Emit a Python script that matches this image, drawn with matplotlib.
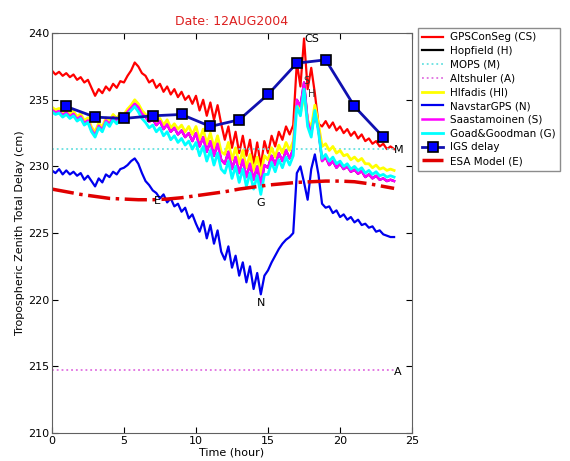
import numpy as np
import matplotlib
matplotlib.use("Agg")
import matplotlib.pyplot as plt

# time axis for the model series, 15 min steps
hours = np.arange(0, 24, 0.25)

gpsconseg = [
    237.2, 236.9, 237.1, 236.8, 237.0, 236.7, 236.9, 236.5,
    236.7, 236.3, 236.5, 235.9, 235.3, 235.8, 235.5, 236.0,
    235.7, 236.2, 235.9, 236.4, 236.3, 236.8, 237.2, 237.8,
    237.5, 237.0, 236.8, 236.3, 236.5, 235.9, 236.2, 235.6,
    236.0, 235.4, 235.8, 235.2, 235.6, 235.0, 235.3, 234.7,
    235.3, 234.2, 235.0, 233.8, 234.8, 233.5, 234.6, 233.2,
    232.0, 233.0, 231.4, 232.6, 231.0, 232.3, 230.8, 232.0,
    230.2, 231.8, 230.0, 231.9, 231.0, 232.3, 231.5, 232.6,
    232.0, 233.0, 232.4, 233.1, 237.8, 236.0, 239.6, 235.8,
    237.4, 235.5, 233.2, 233.0, 233.4, 232.9, 233.3, 232.7,
    233.0, 232.5, 232.8, 232.3, 232.6, 232.1, 232.4, 231.9,
    232.1, 231.7, 231.9, 231.5, 231.7, 231.3, 231.5, 231.3,
]

navstar = [
    229.7, 229.5, 229.8, 229.4, 229.7, 229.4, 229.6, 229.3,
    229.5, 229.0, 229.3, 228.9, 228.5, 229.1, 228.8, 229.4,
    229.2, 229.6, 229.4, 229.8, 229.9, 230.1, 230.4, 230.6,
    230.2, 229.5, 228.9, 228.6, 228.2, 228.0, 227.6, 227.9,
    227.3, 227.6, 227.0, 227.2, 226.6, 226.9, 226.1, 226.4,
    225.7, 225.1, 225.9, 224.6, 225.6, 224.2, 225.2, 223.6,
    223.0, 224.0, 222.4, 223.3, 221.8, 222.8, 221.3, 222.5,
    220.8, 222.0, 220.4, 221.8, 222.2, 222.8, 223.3, 223.8,
    224.2, 224.5, 224.7, 225.0, 229.5, 230.0, 228.8, 227.5,
    229.8, 230.9, 229.4, 227.2, 226.9, 227.0, 226.5, 226.7,
    226.2, 226.4, 226.0, 226.2, 225.8, 226.0, 225.6, 225.7,
    225.4, 225.5, 225.1, 225.2, 224.9, 224.8, 224.7, 224.7,
]

goad = [
    234.1, 233.9, 234.0, 233.7, 233.9, 233.6, 233.8, 233.4,
    233.6, 233.1, 233.3, 232.6, 232.2, 232.9, 232.6, 233.3,
    233.0, 233.5, 233.2, 233.6, 233.5, 233.9, 234.2, 234.5,
    234.1, 233.6, 233.3, 232.9, 233.1, 232.6, 232.9, 232.3,
    232.6, 232.0, 232.3, 231.8, 232.1, 231.6, 231.9, 231.3,
    231.8, 230.8, 231.5, 230.4, 231.2, 230.1, 231.0, 229.8,
    229.5, 230.4, 229.1, 230.0, 228.8, 229.8, 228.5, 229.5,
    228.3, 229.3, 227.9, 229.4, 229.4, 230.3, 229.6, 230.5,
    229.9, 230.7, 230.1, 230.8, 234.5, 233.8, 235.8, 233.0,
    232.2, 234.2, 232.6, 230.6, 230.9, 230.4, 230.7, 230.2,
    230.4, 230.0, 230.2, 229.8, 230.0, 229.7, 229.9, 229.5,
    229.7, 229.4, 229.6, 229.3, 229.4, 229.2, 229.3, 229.2,
]

hifadis = [
    234.45, 234.25, 234.35, 234.05, 234.25, 233.95, 234.15, 233.75,
    233.95, 233.45, 233.65, 232.95, 232.6, 233.25, 232.95, 233.65,
    233.4, 233.9, 233.6, 234.0, 233.9, 234.3, 234.6, 235.0,
    234.7, 234.2, 233.9, 233.6, 233.8, 233.3, 233.6, 233.1,
    233.5, 232.9, 233.2, 232.8, 233.1, 232.6, 233.0, 232.4,
    233.0, 232.0, 232.8, 231.7, 232.5, 231.4, 232.3, 231.1,
    230.9, 231.8, 230.5, 231.4, 230.2, 231.2, 229.9, 230.9,
    229.7, 230.7, 229.4, 230.8, 230.5, 231.4, 230.7, 231.6,
    231.0, 231.8, 231.2, 231.9, 234.9, 234.0, 235.3, 233.5,
    232.9, 234.6, 233.2, 231.5, 231.7, 231.2, 231.5, 231.0,
    231.2, 230.8, 230.9, 230.5, 230.7, 230.4, 230.6, 230.2,
    230.2, 229.9, 230.1, 229.8, 229.9, 229.7, 229.8, 229.7,
]

saast = [
    234.25, 234.05, 234.15, 233.85, 234.05, 233.75, 233.95, 233.55,
    233.75, 233.25, 233.45, 232.75, 232.35, 233.05, 232.75, 233.45,
    233.2, 233.7, 233.4, 233.8, 233.7, 234.1, 234.4, 234.7,
    234.45, 233.95, 233.7, 233.35, 233.55, 233.1, 233.4, 232.8,
    233.15, 232.6, 232.9, 232.4, 232.7, 232.2, 232.5, 231.9,
    232.5, 231.5, 232.2, 231.1, 231.9, 230.8, 231.7, 230.5,
    230.2, 231.1, 229.8, 230.7, 229.5, 230.5, 229.2, 230.2,
    229.0, 230.0, 228.6, 230.1, 229.9, 230.8, 230.1, 231.0,
    230.4, 231.2, 230.6, 231.3, 235.0, 234.5, 236.3, 233.4,
    232.5, 234.0, 232.8, 230.4, 230.7, 230.1, 230.4, 229.9,
    230.2, 229.8, 230.0, 229.6, 229.75, 229.45, 229.65, 229.2,
    229.4, 229.1, 229.3, 229.0, 229.1, 228.9, 229.0, 228.9,
]
# Hopfield sits under Saastamoinen in the picture
hopfield = saast

mops = 231.3
altshuler = 214.7

esa_t = [0, 1, 2, 3, 4, 5, 6, 7, 8, 9, 10, 11, 12, 13, 14, 15, 16, 17, 18, 19, 20, 21, 22, 23, 23.75]
esa = [228.3, 228.1, 227.9, 227.75, 227.6, 227.55, 227.5, 227.5, 227.55, 227.65, 227.8, 227.95,
       228.1, 228.3, 228.45, 228.6, 228.7, 228.8, 228.85, 228.9, 228.9, 228.85, 228.7, 228.5, 228.35]

igs_t = [1, 3, 5, 7, 9, 11, 13, 15, 17, 19, 21, 23]
igs = [234.5, 233.7, 233.6, 233.8, 233.9, 233.0, 233.5, 235.4, 237.75, 238.0, 234.5, 232.2]

fig = plt.figure(figsize=(5.7, 4.61), dpi=100)
ax = fig.add_axes([0.091, 0.061, 0.632, 0.867])

ax.plot(hours, gpsconseg, color='#ff0000', lw=1.6, label='GPSConSeg (CS)')
ax.plot(hours, hopfield, color='black', lw=1.6, label='Hopfield (H)')
ax.plot([hours[0], hours[-1]], [mops, mops], ':', color='#66e0e0', lw=1.3, label='MOPS (M)')
ax.plot([hours[0], hours[-1]], [altshuler, altshuler], ':', color='#e070e0', lw=1.3, label='Altshuler (A)')
ax.plot(hours, hifadis, color='#ffff00', lw=2, label='HIfadis (HI)')
ax.plot(hours, navstar, color='#0000ee', lw=1.6, label='NavstarGPS (N)')
ax.plot(hours, saast, color='#ff00ff', lw=1.8, label='Saastamoinen (S)')
ax.plot(hours, goad, color='#00ffff', lw=2, label='Goad&Goodman (G)')
ax.plot(igs_t, igs, '-s', color='#1010b0', lw=2, mfc='#0000ff', mec='black', mew=1.2,
        ms=7, label='IGS delay', zorder=5)
ax.plot(esa_t, esa, '-.', color='#e00000', lw=2.5, label='ESA Model (E)')

# curve labels
lab = dict(fontsize=8, color='black')
ax.text(17.5, max(gpsconseg), 'CS', ha='left', va='center', **lab)
ax.text(17.45, max(saast) + 0.1, 'S', ha='left', va='center', fontsize=7, color='#333333')
ax.text(17.75, max(saast) - 0.9, 'H', ha='left', va='center', fontsize=7, color='#333333')
ax.text(hours[-1], mops - 0.1, 'M', ha='left', va='center', **lab)
ax.text(hours[-1], altshuler - 0.1, 'A', ha='left', va='center', **lab)
ax.text(14.5, min(goad) - 0.3, 'G', ha='center', va='top', **lab)
ax.text(14.5, min(navstar) - 0.3, 'N', ha='center', va='top', **lab)
ax.text(7.3, 227.4, 'E', ha='center', va='center', **lab)

ax.set_xlim(0, 25)
ax.set_ylim(210, 240)
ax.set_xticks([0, 5, 10, 15, 20, 25])
ax.set_yticks([210, 215, 220, 225, 230, 235, 240])
ax.tick_params(direction='in', top=True, right=True, labelsize=8, length=4, pad=2)
for s in ax.spines.values():
    s.set_color('#606060')
ax.set_xlabel('Time (hour)', fontsize=8, labelpad=1)
ax.set_ylabel('Tropospheric Zenith Total Delay (cm)', fontsize=8, labelpad=2)
ax.set_title('Date: 12AUG2004', color='#dd2020', fontsize=9, pad=6)

fig.legend(loc='upper left', bbox_to_anchor=(0.733, 0.94), fontsize=7.5,
           frameon=True, fancybox=False, edgecolor='#707070', handlelength=2.0,
           labelspacing=0.36, borderpad=0.45, handletextpad=0.6, borderaxespad=0)

fig.savefig('out.png', dpi=100)
